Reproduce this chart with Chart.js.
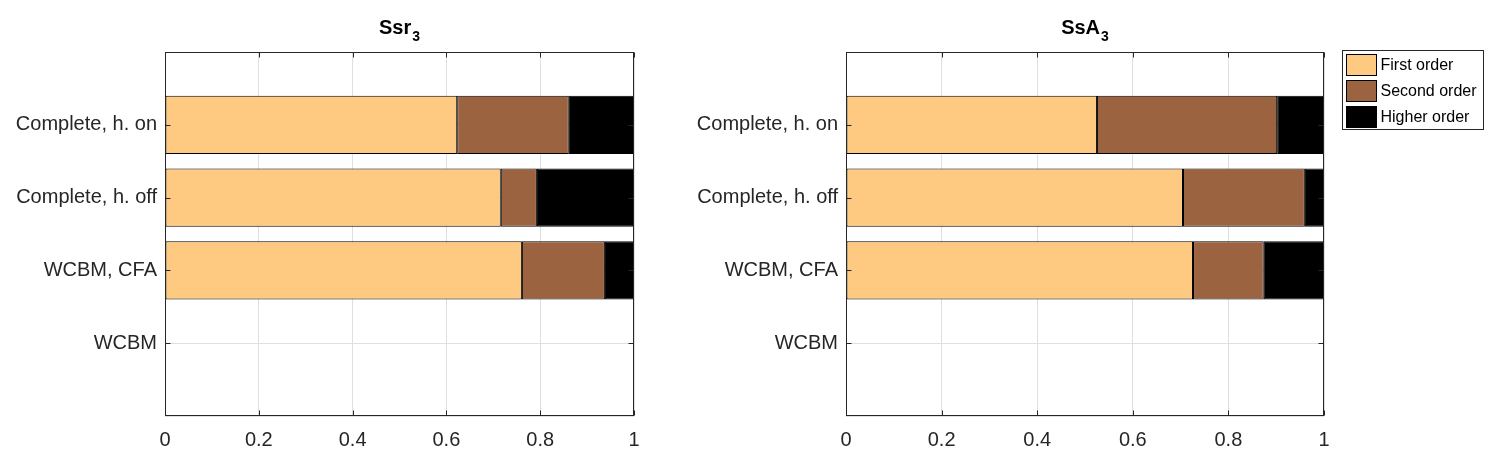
<!DOCTYPE html>
<html>
<head>
<meta charset="utf-8">
<script src="https://cdn.jsdelivr.net/npm/chart.js@4"></script>
<style>
  body { margin: 0; background: #fff; }
  .wrap { position: absolute; top: 0; height: 464px; }
  #leftWrap { left: 0; width: 680px; }
  #rightWrap { left: 680px; width: 822px; }
</style>
</head>
<body>
<div class="wrap" id="leftWrap"><canvas id="ssrChart"></canvas></div>
<div class="wrap" id="rightWrap"><canvas id="ssaChart"></canvas></div>
<script>
// categories, top to bottom
const categories = ['Complete, h. on', 'Complete, h. off', 'WCBM, CFA', 'WCBM'];
const seriesNames = ['First order', 'Second order', 'Higher order'];
const seriesColors = ['#fec980', '#9c6340', '#000000'];
const xTicks = [0, 0.2, 0.4, 0.6, 0.8, 1];

// Ssr_3
const ssrFirst = [0.623, 0.716, 0.761, null];
const ssrSecond = [0.238, 0.077, 0.177, null];
const ssrHigher = [0.139, 0.207, 0.062, null];

// SsA_3
const ssaFirst = [0.525, 0.705, 0.726, null];
const ssaSecond = [0.377, 0.255, 0.148, null];
const ssaHigher = [0.098, 0.040, 0.126, null];

const FONT = '"Liberation Sans", Arial, Helvetica, sans-serif';
const TEXT = '#262626';

// empty slot above and below, like the matlab axis limits
const labels = [''].concat(categories, ['']);
const pad = arr => [null].concat(arr, [null]);

// box, inward ticks, title with subscript and legend
const matlabPlugin = {
    id: 'matlab',
    afterDatasetsDraw(chart, args, opts) {
        const ctx = chart.ctx;
        const a = chart.chartArea;
        const L = Math.round(a.left) + 0.5, R = Math.round(a.right) - 0.5;
        const T = Math.round(a.top) + 0.5, B = Math.round(a.bottom) - 0.5;
        ctx.save();
        ctx.strokeStyle = TEXT;
        ctx.lineWidth = 1;
        ctx.strokeRect(L, T, R - L, B - T);
        ctx.beginPath();
        xTicks.forEach(v => {
            const x = Math.round(chart.scales.x.getPixelForValue(v)) + 0.5;
            ctx.moveTo(x, B); ctx.lineTo(x, B - 5);
            ctx.moveTo(x, T); ctx.lineTo(x, T + 5);
        });
        labels.forEach((l, i) => {
            if (!l) return;
            const y = Math.round(chart.scales.y.getPixelForValue(i)) + 0.5;
            ctx.moveTo(L, y); ctx.lineTo(L + 5, y);
            ctx.moveTo(R, y); ctx.lineTo(R - 5, y);
        });
        ctx.stroke();
        ctx.restore();
    },
    afterDraw(chart, args, opts) {
        const ctx = chart.ctx;
        const a = chart.chartArea;
        ctx.save();
        // title
        ctx.fillStyle = '#000';
        ctx.textBaseline = 'alphabetic';
        ctx.font = 'bold 20px ' + FONT;
        const mainW = ctx.measureText(opts.title).width;
        ctx.font = 'bold 14px ' + FONT;
        const subW = ctx.measureText(opts.sub).width;
        const x0 = (a.left + a.right) / 2 - (mainW + subW + 1) / 2;
        ctx.font = 'bold 20px ' + FONT;
        ctx.textAlign = 'left';
        ctx.fillText(opts.title, x0, 34);
        ctx.font = 'bold 14px ' + FONT;
        ctx.fillText(opts.sub, x0 + mainW + 1, 41);

        if (opts.legend) {
            const lx = Math.round(a.right) + 18.5, ly = 50.5;
            ctx.fillStyle = '#fff';
            ctx.fillRect(lx, ly, 141, 79);
            ctx.strokeStyle = TEXT;
            ctx.lineWidth = 1;
            ctx.strokeRect(lx, ly, 141, 79);
            ctx.font = '16px ' + FONT;
            ctx.textBaseline = 'middle';
            chart.data.datasets.forEach((ds, i) => {
                const sy = ly + 4 + i * 26;
                ctx.fillStyle = ds.backgroundColor;
                ctx.fillRect(lx + 4, sy, 30, 21);
                ctx.strokeStyle = '#000';
                ctx.strokeRect(lx + 4, sy, 30, 21);
                ctx.fillStyle = '#000';
                ctx.fillText(ds.label, lx + 38, sy + 11);
            });
        }
        ctx.restore();
    }
};

function makeChart(id, values, title, sub, yWidth, padRight, legend) {
    const ctx = document.getElementById(id).getContext('2d');
    return new Chart(ctx, {
        type: 'bar',
        data: {
            labels: labels,
            datasets: values.map((v, i) => ({
                label: seriesNames[i],
                data: pad(v),
                backgroundColor: seriesColors[i],
                borderColor: '#000',
                borderWidth: 1,
                borderSkipped: false,
                barPercentage: 0.8,
                categoryPercentage: 1
            }))
        },
        options: {
            indexAxis: 'y',
            responsive: true,
            maintainAspectRatio: false,
            animation: false,
            layout: { padding: { top: 52, right: padRight, bottom: 0, left: 0 } },
            plugins: {
                legend: { display: false },
                tooltip: { enabled: false },
                matlab: { title: title, sub: sub, legend: legend }
            },
            scales: {
                x: {
                    stacked: true,
                    min: 0,
                    max: 1,
                    afterBuildTicks: scale => { scale.ticks = xTicks.map(v => ({ value: v })); },
                    afterFit: scale => { scale.height = 48; },
                    border: { display: false },
                    grid: { color: '#dfdfdf', drawTicks: false },
                    ticks: {
                        padding: 12,
                        color: TEXT,
                        font: { family: FONT, size: 20 },
                        maxRotation: 0,
                        callback: v => String(Number(v.toFixed(1)))
                    }
                },
                y: {
                    stacked: true,
                    offset: false,
                    afterFit: scale => { scale.width = yWidth; },
                    border: { display: false },
                    grid: { color: '#dfdfdf', drawTicks: false, offset: false },
                    ticks: {
                        padding: 8,
                        color: TEXT,
                        font: { family: FONT, size: 20 },
                        autoSkip: false
                    }
                }
            }
        },
        plugins: [matlabPlugin]
    });
}

makeChart('ssrChart', [ssrFirst, ssrSecond, ssrHigher], 'Ssr', '3', 165, 46, false);
makeChart('ssaChart', [ssaFirst, ssaSecond, ssaHigher], 'SsA', '3', 166, 178, true);
</script>
</body>
</html>
